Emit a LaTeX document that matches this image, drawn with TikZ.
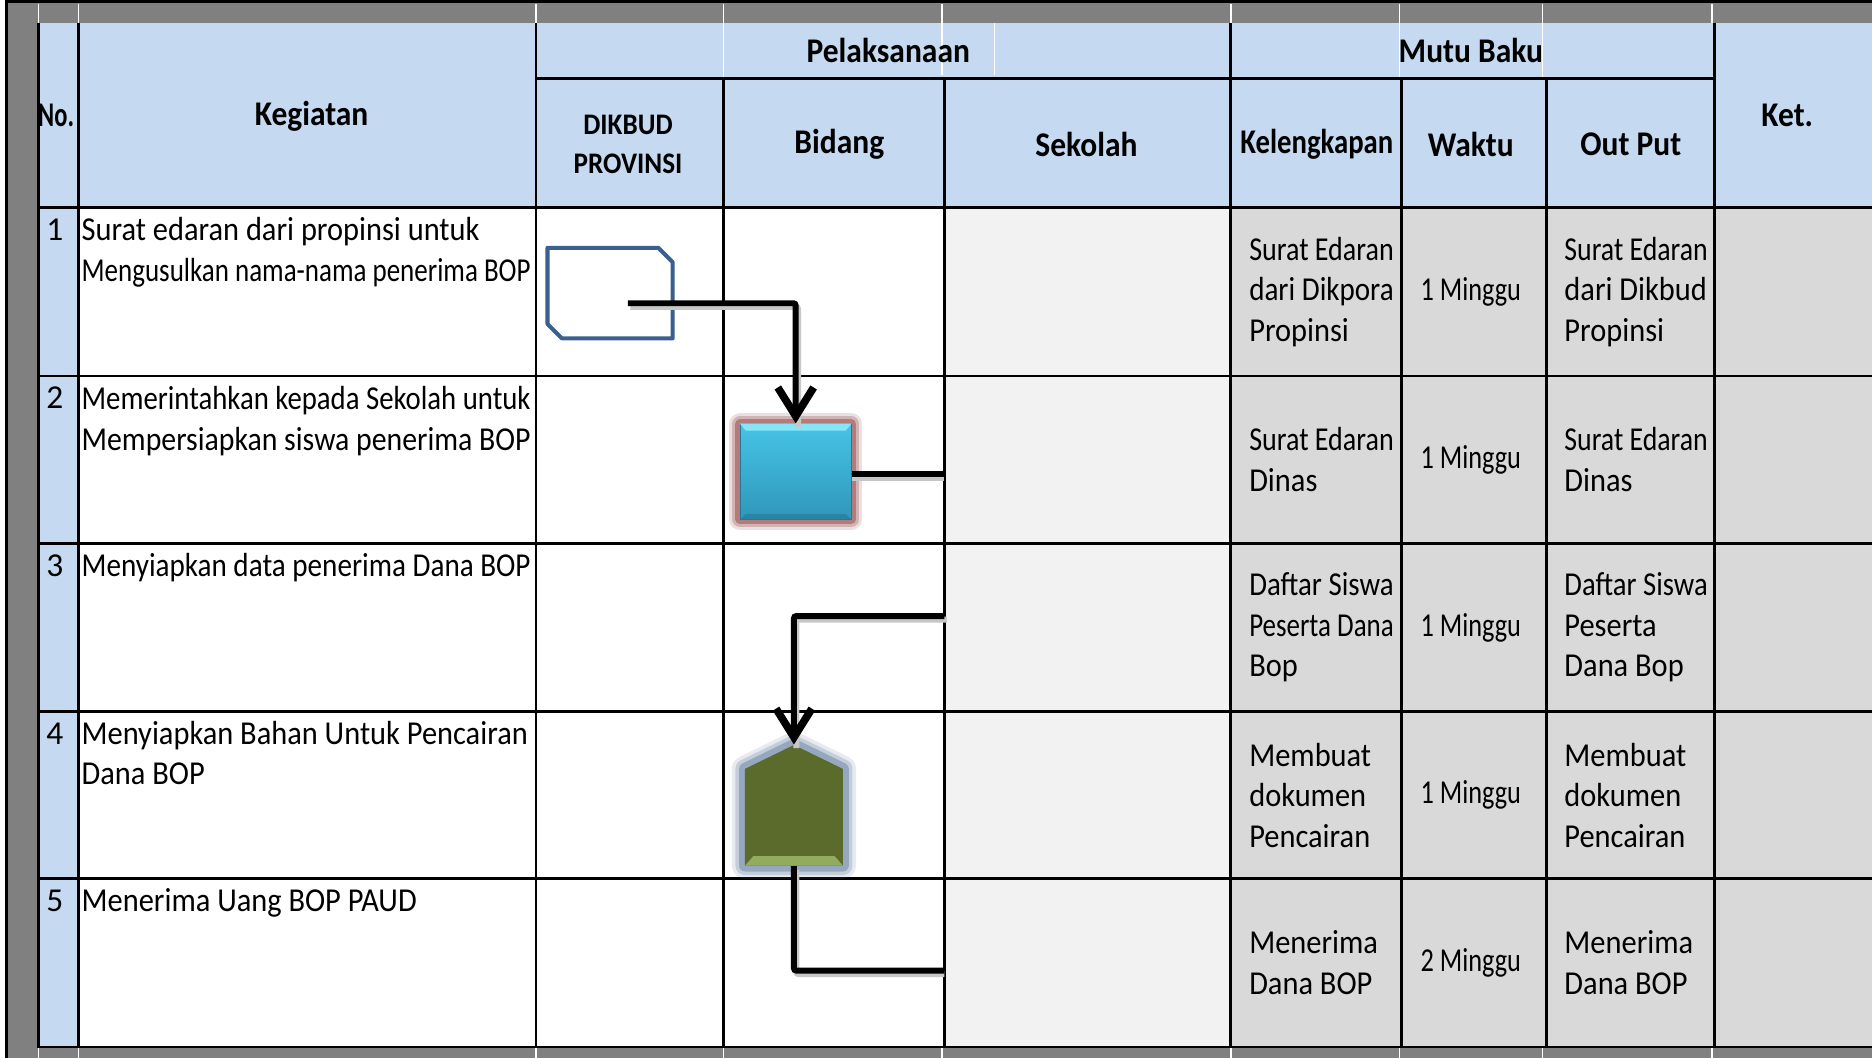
\documentclass[tikz,border=0pt]{standalone}
\usepackage{fontspec}
\setmainfont{Carlito}
\usepackage{graphicx}
\usetikzlibrary{arrows.meta}

\definecolor{bandgray}{HTML}{808080}
\definecolor{hdrblue}{HTML}{C5D9F1}
\definecolor{lightgr}{HTML}{F2F2F2}
\definecolor{midgr}{HTML}{D9D9D9}
\definecolor{snipblue}{HTML}{3B5F8F}
\definecolor{cyanA}{HTML}{46C4E6}
\definecolor{cyanB}{HTML}{2F97BA}
\definecolor{cyanL}{HTML}{86E6F8}
\definecolor{olive}{HTML}{5A6B2C}
\definecolor{oliveL}{HTML}{93AB5E}
\definecolor{glowred}{HTML}{985050}
\definecolor{glowblue}{HTML}{5F7AA0}

\newsavebox\flbox
\newlength\flw
\newlength\flh
\newcommand\fl[2][1000pt]{\sbox\flbox{#2}\setlength\flw{0.91\wd\flbox}\setlength\flh{\ht\flbox}\ifdim\flw>#1\relax\resizebox{#1}{\flh}{\usebox\flbox}\else\scalebox{0.91}[1]{\usebox\flbox}\fi}
\newcommand\kg[1]{\fl[188pt]{#1}}
\newcommand\kl[1]{\fl[60.5pt]{#1}}
\newcommand\op[1]{\fl[60pt]{#1}}
\newcommand\wk[1]{\fl[42pt]{#1}}

\tikzset{
  gridline/.style={line width=1.2pt, black},
  tick/.style={white, line width=0.5pt},
  hdr/.style={font=\fontsize{14.5}{17}\selectfont\bfseries, inner sep=0, align=center},
  keg/.style={font=\fontsize{14}{17}\selectfont, inner sep=0, anchor=base west, align=left},
  num/.style={font=\fontsize{14}{17}\selectfont, inner sep=0, anchor=base},
  mutu/.style={font=\fontsize{14}{17}\selectfont, inner sep=0, anchor=west, align=left},
  wkt/.style={font=\fontsize{14}{17}\selectfont, inner sep=0},
  conn/.style={line width=2.5pt, rounded corners=1pt, line cap=butt,
    -{Straight Barb[length=12pt,width=15pt,line width=3.2pt]}},
  connline/.style={line width=2.5pt, rounded corners=1pt},
  shade/.style={black!22, line width=2.5pt, rounded corners=1pt},
}

\begin{document}
\begin{tikzpicture}[x=0.5pt,y=-0.5pt]
\useasboundingbox (0,0) rectangle (1568,886);

% outer gray frame
\fill[bandgray] (5,0) rectangle (1580,890);
\draw[line width=1.3pt] (5.5,900) -- (5.5,1.5) -- (1580,1.5);

% cell fills
\fill[hdrblue] (32,19) rectangle (1580,174);
\fill[hdrblue] (32,174) rectangle (66,877);
\fill[white] (66,174) rectangle (791,877);
\fill[lightgr] (791,174) rectangle (1031,877);
\fill[midgr] (1031,174) rectangle (1580,877);

% white grid ticks in the gray band and the header
\foreach \x in {32,66,449,606,789,1031,1172,1292,1434} {
  \draw[tick] (\x,3) -- (\x,19);
  \draw[tick] (\x,878) -- (\x,890);
}
\draw[tick] (606,19) -- (606,66);
\draw[tick] (789,19) -- (789,63);
\draw[tick] (833,19) -- (833,63);
\draw[tick] (1172,19) -- (1172,66);
\draw[tick] (1292,19) -- (1292,66);

% black grid
\foreach \x in {32,66,449,1031,1436} \draw[gridline] (\x,19) -- (\x,878);
\foreach \x in {606,791,1174,1295} \draw[gridline] (\x,66) -- (\x,878);
\draw[gridline] (449,66) -- (1436,66);
\foreach \y in {174,315,455,596,736,877} \draw[gridline] (31.4,\y) -- (1580,\y);

% header texts
\node[hdr] (hno) at (47,97) {\fl[15pt]{No.}};
\node[hdr] (hkeg) at (261,97) {\fl{Kegiatan}};
\node[hdr] (hpel) at (744,42) {\fl{Pelaksanaan}};
\node[hdr] (hmutu) at (1232,42) {\fl{Mutu Baku}};
\node[hdr, font=\fontsize{12.5}{16.5}\selectfont\bfseries] (hdik) at (526,121) {\fl{DIKBUD}\\\fl{PROVINSI}};
\node[hdr] (hbid) at (703,121) {\fl{Bidang}};
\node[hdr] (hsek) at (910,121) {\fl{Sekolah}};
\node[hdr] (hkel) at (1103,121) {\fl[64pt]{Kelengkapan}};
\node[hdr] (hwak) at (1232,121) {\fl{Waktu}};
\node[hdr] (hout) at (1366,121) {\fl{Out Put}};
\node[hdr] (hket) at (1497,97) {\fl{Ket.}};

% row numbers and activities (base = baseline of the last line)
\node[num] (n1) at (46,201.5) {1};
\node[num] (n2) at (46,342.5) {2};
\node[num] (n3) at (46,482.5) {3};
\node[num] (n4) at (46,623.5) {4};
\node[num] (n5) at (46,763.5) {5};
\node[keg] (k1) at (68,235.5) {\kg{Surat edaran dari propinsi untuk}\\\kg{Mengusulkan nama-nama penerima BOP}};
\node[keg] (k2) at (68,377) {\kg{Memerintahkan kepada Sekolah untuk}\\\kg{Mempersiapkan siswa penerima BOP}};
\node[keg] (k3) at (68,482.5) {\kg{Menyiapkan data penerima Dana BOP}};
\node[keg] (k4) at (68,657.5) {\kg{Menyiapkan Bahan Untuk Pencairan}\\\kg{Dana BOP}};
\node[keg] (k5) at (68,763.5) {\kg{Menerima Uang BOP PAUD}};

% Kelengkapan
\node[mutu] (l1) at (1046,244.5) {\kl{Surat Edaran}\\\kl{dari Dikpora}\\\kl{Propinsi}};
\node[mutu] (l2) at (1046,385) {\kl{Surat Edaran}\\\kl{Dinas}};
\node[mutu] (l3) at (1046,525.5) {\kl{Daftar Siswa}\\\kl{Peserta Dana}\\\kl{Bop}};
\node[mutu] (l4) at (1046,666) {\kl{Membuat}\\\kl{dokumen}\\\kl{Pencairan}};
\node[mutu] (l5) at (1046,806.5) {\kl{Menerima}\\\kl{Dana BOP}};

% Waktu
\node[wkt] (w1) at (1232,244.5) {\wk{1 Minggu}};
\node[wkt] (w2) at (1232,385) {\wk{1 Minggu}};
\node[wkt] (w3) at (1232,525.5) {\wk{1 Minggu}};
\node[wkt] (w4) at (1232,666) {\wk{1 Minggu}};
\node[wkt] (w5) at (1232,806.5) {\wk{2 Minggu}};

% Out Put
\node[mutu] (o1) at (1310,244.5) {\op{Surat Edaran}\\\op{dari Dikbud}\\\op{Propinsi}};
\node[mutu] (o2) at (1310,385) {\op{Surat Edaran}\\\op{Dinas}};
\node[mutu] (o3) at (1310,525.5) {\op{Daftar Siswa}\\\op{Peserta}\\\op{Dana Bop}};
\node[mutu] (o4) at (1310,666) {\op{Membuat}\\\op{dokumen}\\\op{Pencairan}};
\node[mutu] (o5) at (1310,806.5) {\op{Menerima}\\\op{Dana BOP}};

% ---- flow shapes ----
% row 1: snipped rectangle (corners cut at top right and bottom left)
\node[inner sep=0, minimum width=52pt, minimum height=37.5pt] (s1) at (511,245.5) {};
\draw[snipblue, line width=1.7pt, line join=round]
  (s1.north west) -- ([xshift=-6pt]s1.north east) -- ([yshift=-6pt]s1.north east)
  -- (s1.south east) -- ([xshift=6pt]s1.south west) -- ([yshift=6pt]s1.south west) -- cycle;
\coordinate (s1o) at (526,254);

% row 2: cyan process box with glow
\foreach \w/\o in {9/0.18,6.5/0.3,4/0.55} {
  \draw[glowred, line width=\w pt, opacity=\o, line join=round] (620,355) rectangle (713,435);
}
\node[rectangle, inner sep=0, minimum width=46.5pt, minimum height=40pt,
  top color=cyanA, bottom color=cyanB, draw=cyanB!80!black, line width=0.4pt] (b2) at (666.5,395) {};
\fill[cyanL] (b2.north west) -- (b2.north east) -- ([xshift=-2.5pt,yshift=-3pt]b2.north east)
  -- ([xshift=2.5pt,yshift=-3pt]b2.north west) -- cycle;
\fill[cyanB!80!black, opacity=0.6] (b2.south west) -- (b2.south east) -- ([xshift=-2.5pt,yshift=2.5pt]b2.south east)
  -- ([xshift=2.5pt,yshift=2.5pt]b2.south west) -- cycle;

% row 4: olive pentagon with glow
\foreach \w/\o in {11/0.15,8/0.25,5/0.45} {
  \draw[glowblue, line width=\w pt, opacity=\o, line join=round]
    (665,624) -- (706,644) -- (706,725) -- (624,725) -- (624,644) -- cycle;
}
\fill[olive] (665,624) -- (706,644) -- (706,725) -- (624,725) -- (624,644) -- cycle;
\fill[oliveL] (624,725) -- (706,725) -- (699,717) -- (631,717) -- cycle;
\node[inner sep=0, minimum width=41pt, minimum height=50.5pt] (p4) at (665,674.5) {};

% free ends on the Sekolah border
\coordinate (c2) at (791,397);
\coordinate (c3) at (791,516);
\coordinate (c5) at (791,813);

% connectors (with faint shadow)
\draw[shade] ([xshift=1pt,yshift=-1.5pt]s1o) -| ([xshift=1pt,yshift=-1.5pt]b2.north);
\draw[conn] (s1o) -| (b2.north);
\draw[shade] ([yshift=-1.5pt]b2.east |- c2) -- ([yshift=-1.5pt]c2);
\draw[connline] (b2.east |- c2) -- (c2);
\draw[shade] ([xshift=1pt,yshift=-1.5pt]c3) -| ([xshift=1pt,yshift=-1.5pt]p4.north);
\draw[conn] (c3) -| (p4.north);
\draw[shade] ([xshift=1pt,yshift=-1.5pt]p4.south) |- ([yshift=-1.5pt]c5);
\draw[connline] (p4.south) |- (c5);
\end{tikzpicture}
\end{document}
